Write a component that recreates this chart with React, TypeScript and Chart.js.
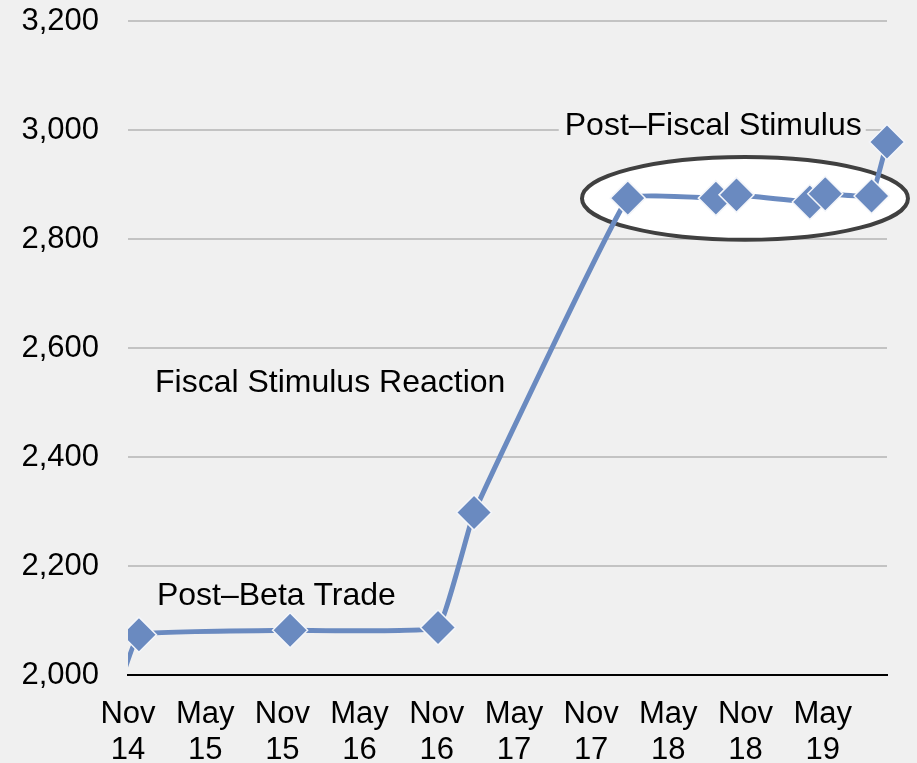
import React, { useEffect, useRef } from 'react';
import { Chart, registerables } from 'chart.js';

Chart.register(...registerables);

// Months elapsed since November 2014 (x positions of the observations)
const monthOffsets = [-1, 0.85, 12.6, 24.1, 26.9, 38.85, 45.7, 47.3, 53.0, 54.2, 57.8, 59.0];
// Index level at each observation
const indexValues = [1957, 2074, 2082, 2087, 2298, 2875, 2875, 2881, 2868, 2883, 2879, 2978];

// X-axis ticks (months since Nov 2014) and their two-line labels
const tickMonths = [0, 6, 12, 18, 24, 30, 36, 42, 48, 54];
const tickLabels = [
  ['Nov', '14'], ['May', '15'], ['Nov', '15'], ['May', '16'], ['Nov', '16'],
  ['May', '17'], ['Nov', '17'], ['May', '18'], ['Nov', '18'], ['May', '19'],
];
const xMin = 0;
const xMax = 59;

// Y-axis ticks
const yTicks = [2000, 2200, 2400, 2600, 2800, 3000, 3200];

// Annotation texts, anchored in data coordinates (left edge, baseline)
const annotationTexts = ['Post\u2013Beta Trade', 'Fiscal Stimulus Reaction', 'Post\u2013Fiscal Stimulus'];
const annotationMonths = [2.25, 2.1, 33.95];
const annotationValues = [2129, 2519.5, 2990.5];

// Highlight ellipse (data coordinates): center and half-extents
const ellipseCenter = [47.96, 2874.5];
const ellipseHalfExtent = [12.67, 76];

const FONT = '"Liberation Sans", Arial, Helvetica, sans-serif';
const BG = '#f0f0f0';
const LINE = '#6a8ac0';

const overlayPlugin = {
  id: 'overlay',
  beforeDatasetsDraw(chart: any) {
    const { ctx } = chart;
    const x = chart.scales.x;
    const y = chart.scales.y;
    ctx.save();
    const cx = x.getPixelForValue(ellipseCenter[0]);
    const cy = y.getPixelForValue(ellipseCenter[1]);
    const rx = x.getPixelForValue(ellipseCenter[0] + ellipseHalfExtent[0]) - cx;
    const ry = cy - y.getPixelForValue(ellipseCenter[1] + ellipseHalfExtent[1]);
    ctx.beginPath();
    ctx.ellipse(cx, cy, rx, ry, 0, 0, Math.PI * 2);
    ctx.fillStyle = '#ffffff';
    ctx.fill();
    ctx.lineWidth = 4;
    ctx.strokeStyle = '#404040';
    ctx.stroke();

    ctx.font = `32px ${FONT}`;
    ctx.textAlign = 'left';
    ctx.textBaseline = 'alphabetic';
    annotationTexts.forEach((t, i) => {
      const px = x.getPixelForValue(annotationMonths[i]);
      const py = y.getPixelForValue(annotationValues[i]);
      const w = ctx.measureText(t).width;
      ctx.fillStyle = BG;
      ctx.fillRect(px - 6, py - 27, w + 10, 36);
      ctx.fillStyle = '#000000';
      ctx.fillText(t, px, py);
    });
    ctx.restore();
  },
};

export default function App() {
  const ref = useRef<HTMLCanvasElement | null>(null);

  useEffect(() => {
    document.body.style.margin = '0';
    const canvas = ref.current;
    if (!canvas) return;
    const chart = new Chart(canvas, {
      type: 'line',
      data: {
        datasets: [
          {
            data: monthOffsets.map((m, i) => ({ x: m, y: indexValues[i] })),
            borderColor: LINE,
            borderWidth: 5,
            tension: 0.08,
            pointStyle: 'rectRot',
            pointRadius: 17.5,
            pointBackgroundColor: LINE,
            pointBorderColor: '#f4f6fa',
            pointBorderWidth: 1.5,
            clip: { left: 0, top: false, right: false, bottom: false } as any,
          },
        ],
      },
      options: {
        animation: false,
        responsive: false,
        devicePixelRatio: 1,
        layout: { padding: { top: 21, right: 30, bottom: 0, left: 0 } },
        plugins: { legend: { display: false }, tooltip: { enabled: false } },
        scales: {
          x: {
            type: 'linear',
            min: xMin,
            max: xMax,
            afterBuildTicks: (s: any) => {
              s.ticks = tickMonths.map((v) => ({ value: v }));
            },
            afterFit: (s: any) => {
              s.height = 88;
              s.paddingLeft = 0;
              s.paddingRight = 0;
            },
            ticks: {
              autoSkip: false,
              maxRotation: 0,
              minRotation: 0,
              padding: 22,
              color: '#000000',
              font: { family: FONT, size: 31, lineHeight: 1.15 },
              callback: (_v: any, i: number) => tickLabels[i],
            },
            grid: { display: false, drawTicks: false },
            border: { display: true, color: '#000000', width: 2 },
          },
          y: {
            min: 2000,
            max: 3200,
            afterBuildTicks: (s: any) => {
              s.ticks = yTicks.map((v) => ({ value: v }));
            },
            afterFit: (s: any) => {
              s.width = 128;
              s.paddingTop = 0;
              s.paddingBottom = 0;
            },
            ticks: {
              padding: 29,
              color: '#000000',
              font: { family: FONT, size: 31 },
              callback: (v: any) => Number(v).toLocaleString('en-US'),
            },
            grid: {
              color: (c: any) => (c.tick && c.tick.value === 2000 ? 'rgba(0,0,0,0)' : '#c3c3c3'),
              lineWidth: 2,
              drawTicks: false,
            },
            border: { display: false },
          },
        },
      },
      plugins: [overlayPlugin],
    });
    return () => chart.destroy();
  }, []);

  return (
    <div style={{ position: 'absolute', left: 0, top: 0, width: 917, height: 763, background: BG }}>
      <canvas ref={ref} width={917} height={763} style={{ display: 'block' }} />
    </div>
  );
}
